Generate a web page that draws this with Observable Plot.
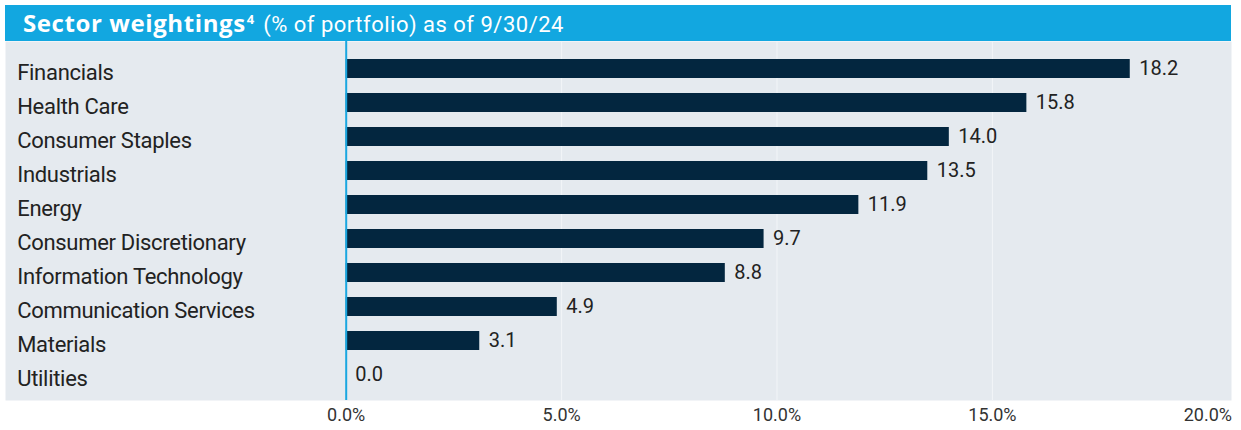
<!DOCTYPE html>
<html>
<head>
<meta charset="utf-8">
<script src="https://cdn.jsdelivr.net/npm/d3@7"></script>
<script src="https://cdn.jsdelivr.net/npm/@observablehq/plot@0.6"></script>
<style>
  html, body { margin: 0; padding: 0; background: #fff; }
  #wrap { position: relative; width: 1241px; height: 430px; font-family: Roboto, "Noto Sans", sans-serif; }
  #title { position: absolute; left: 5px; top: 5px; width: 1226px; height: 36px; background: #12a7e0; color: #fff; box-sizing: border-box; padding-left: 18px; line-height: 36px; white-space: nowrap; }
  #title b { font-family: "Open Sans", Roboto, sans-serif; font-weight: 700; font-size: 24px; letter-spacing: 0.6px; }
  #title sup { font-family: "Open Sans", Roboto, sans-serif; font-size: 13px; font-weight: 700; vertical-align: 8px; line-height: 0; margin-left: 1px; margin-right: 5px; }
  #title span { font-size: 22px; letter-spacing: 0.5px; }
  #chart { position: absolute; left: 0; top: 41px; }
  #chart g[aria-label="y-axis tick label"] text { letter-spacing: -0.3px; }
</style>
</head>
<body>
<div id="wrap">
  <div id="title"><b>Sector weightings</b><sup>4</sup> <span>(% of portfolio) as of 9/30/24</span></div>
  <div id="chart"></div>
</div>
<script>
const sectors = ["Financials", "Health Care", "Consumer Staples", "Industrials", "Energy",
  "Consumer Discretionary", "Information Technology", "Communication Services", "Materials", "Utilities"];
const weights = [18.2, 15.8, 14.0, 13.5, 11.9, 9.7, 8.8, 4.9, 3.1, 0.0];
const xTicks = [0, 5, 10, 15, 20];

const data = sectors.map((s, i) => ({sector: s, value: weights[i]}));

const chart = Plot.plot({
  width: 1241,
  height: 389,
  marginLeft: 345.7,
  marginRight: 10,
  marginTop: 8,
  marginBottom: 37,
  style: {fontFamily: "Roboto, 'Noto Sans', sans-serif", color: "#222", background: "transparent"},
  x: {domain: [0, 20.55]},
  y: {domain: sectors, paddingInner: 0.45, paddingOuter: 0.225},
  marks: [
    Plot.frame({fill: "#e5eaef", stroke: null, insetLeft: -340.7, insetTop: -8, insetBottom: -7}),
    Plot.gridX(xTicks.slice(1, 4), {stroke: "#f2f5f8", strokeOpacity: 1, strokeWidth: 1, insetTop: -8, insetBottom: -7}),
    Plot.barX(data, {x: "value", y: "sector", fill: "#03263f"}),
    Plot.ruleX([0], {stroke: "#1aa7e0", strokeWidth: 2, insetTop: -8, insetBottom: -7}),
    Plot.text(data, {x: "value", y: "sector", text: d => d.value.toFixed(1), textAnchor: "start", dx: 9, fontSize: 20, fill: "#222"}),
    Plot.axisY({tickSize: 0, tickPadding: 0, textAnchor: "start", dx: -329, dy: 3.5, fontSize: 22, label: null, fill: "#222"}),
    Plot.axisX({ticks: xTicks, tickFormat: d => d.toFixed(1) + "%", tickSize: 0, tickPadding: 15, fontSize: 18, label: null, fill: "#333"})
  ]
});
document.getElementById("chart").appendChild(chart);
</script>
</body>
</html>
